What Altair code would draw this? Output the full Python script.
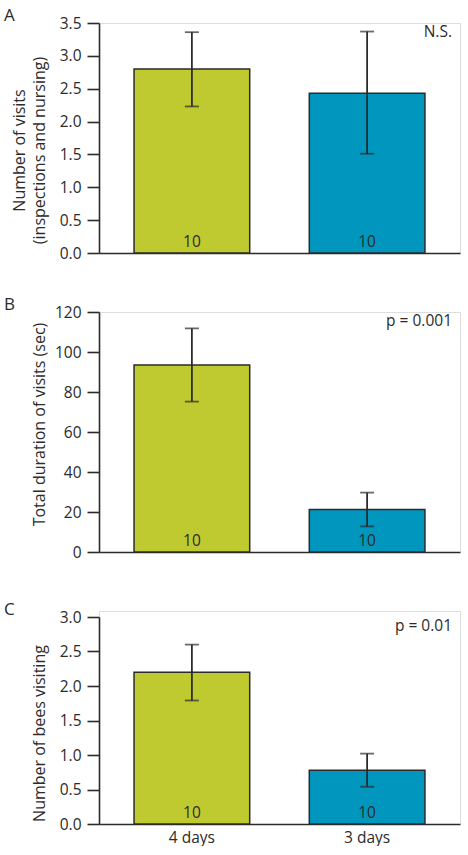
import altair as alt
import pandas as pd

# Treatment groups and sample sizes
groups = ["4 days", "3 days"]
n_bees = [10, 10]

# Panel A: number of visits (inspections and nursing)
visits_mean = [2.80, 2.43]
visits_low = [2.23, 1.51]
visits_high = [3.36, 3.37]

# Panel B: total duration of visits (sec)
duration_mean = [93.5, 21.2]
duration_low = [75.2, 12.8]
duration_high = [111.8, 29.7]

# Panel C: number of bees visiting
bees_mean = [2.20, 0.78]
bees_low = [1.79, 0.54]
bees_high = [2.60, 1.02]

GREEN = "#bfc930"
BLUE = "#0096bd"
INK = "#2b2b2b"
FONT = "Open Sans"
PLOT_W = 361


def panel(letter, means, lows, highs, y_title, y_ticks, y_fmt, height, top_gap,
          note, title_y, title_x, show_x_labels):
    df = pd.DataFrame({"group": groups, "mean": means, "low": lows,
                       "high": highs, "n": n_bees})
    x_axis = alt.Axis(
        title=None, labels=show_x_labels, ticks=False, labelAngle=0,
        labelFontSize=15.5, labelPadding=6, labelColor=INK, domainColor=INK,
        domainWidth=1.6, labelFont=FONT,
    )
    x = alt.X("group:N", sort=groups, axis=x_axis,
              scale=alt.Scale(domain=groups, paddingInner=0.34, paddingOuter=0.2))
    total_h = height + top_gap
    y_scale = alt.Scale(domain=[0, y_ticks[-1]], nice=False, zero=True,
                        range=[total_h, top_gap])
    y_axis = alt.Axis(
        values=y_ticks, tickCount=len(y_ticks) + 2, format=y_fmt, title=y_title,
        grid=False, labelOverlap=False, tickSize=12, tickWidth=1.6,
        tickColor=INK, domainColor=INK, domainWidth=1.6, labelFontSize=15.5,
        labelColor=INK, labelPadding=6, labelFont=FONT, titleFont=FONT,
        titleFontSize=16, titleFontWeight="normal", titleColor=INK,
        titleAngle=-90, titleBaseline="middle", titleAlign="center",
        titleX=title_x, titleY=title_y + top_gap, titleLineHeight=20,
    )
    base = alt.Chart(df)
    bars = base.mark_bar(stroke=INK, strokeWidth=1.5).encode(
        x=x,
        y=alt.Y("mean:Q", scale=y_scale, axis=y_axis),
        color=alt.Color("group:N", scale=alt.Scale(domain=groups, range=[GREEN, BLUE]),
                        legend=None),
    )
    whisker = base.mark_rule(color=INK, strokeWidth=1.8).encode(
        x=alt.X("group:N", sort=groups), y="low:Q", y2="high:Q")
    cap_low = base.mark_tick(color=INK, size=14, thickness=1.8).encode(
        x=alt.X("group:N", sort=groups), y="low:Q")
    cap_high = base.mark_tick(color=INK, size=14, thickness=1.8).encode(
        x=alt.X("group:N", sort=groups), y="high:Q")
    counts = base.mark_text(font=FONT, fontSize=15.5, color=INK,
                            baseline="alphabetic").encode(
        x=alt.X("group:N", sort=groups), y=alt.value(total_h - 6),
        text="n:Q")
    label_df = pd.DataFrame({"letter": [letter], "note": [note]})
    letter_mark = alt.Chart(label_df).mark_text(
        font=FONT, fontSize=17, color=INK, align="left", baseline="alphabetic"
    ).encode(x=alt.value(-95), y=alt.value(top_gap - 2), text="letter:N")
    note_mark = alt.Chart(label_df).mark_text(
        font=FONT, fontSize=15.5, color=INK, align="right", baseline="middle"
    ).encode(x=alt.value(353), y=alt.value(top_gap + 9), text="note:N")
    return alt.layer(bars, whisker, cap_low, cap_high, counts, letter_mark,
                     note_mark).properties(width=PLOT_W, height=total_h)


panel_a = panel("A", visits_mean, visits_low, visits_high,
                ["Number of visits", "(inspections and nursing)"],
                [0, 0.5, 1.0, 1.5, 2.0, 2.5, 3.0, 3.5], ".1f", 230, 0,
                "N.S.", 127, -80, False)
panel_b = panel("B", duration_mean, duration_low, duration_high,
                "Total duration of visits (sec)",
                [0, 20, 40, 60, 80, 100, 120], "d", 240, 0,
                "p = 0.001", 112, -60, False)
panel_c = panel("C", bees_mean, bees_low, bees_high,
                "Number of bees visiting",
                [0, 0.5, 1.0, 1.5, 2.0, 2.5, 3.0], ".1f", 207, 6,
                "p = 0.01", 116, -60, True)

chart = alt.vconcat(panel_a, panel_b, panel_c, spacing=59, bounds="flush").properties(
    padding={"left": 3, "top": 6, "right": 0, "bottom": 0}
).resolve_scale(y="independent", x="independent").configure_view(
    stroke=None
).configure(font=FONT)

chart.save("out.html", embed_options={"renderer": "svg", "actions": False})
